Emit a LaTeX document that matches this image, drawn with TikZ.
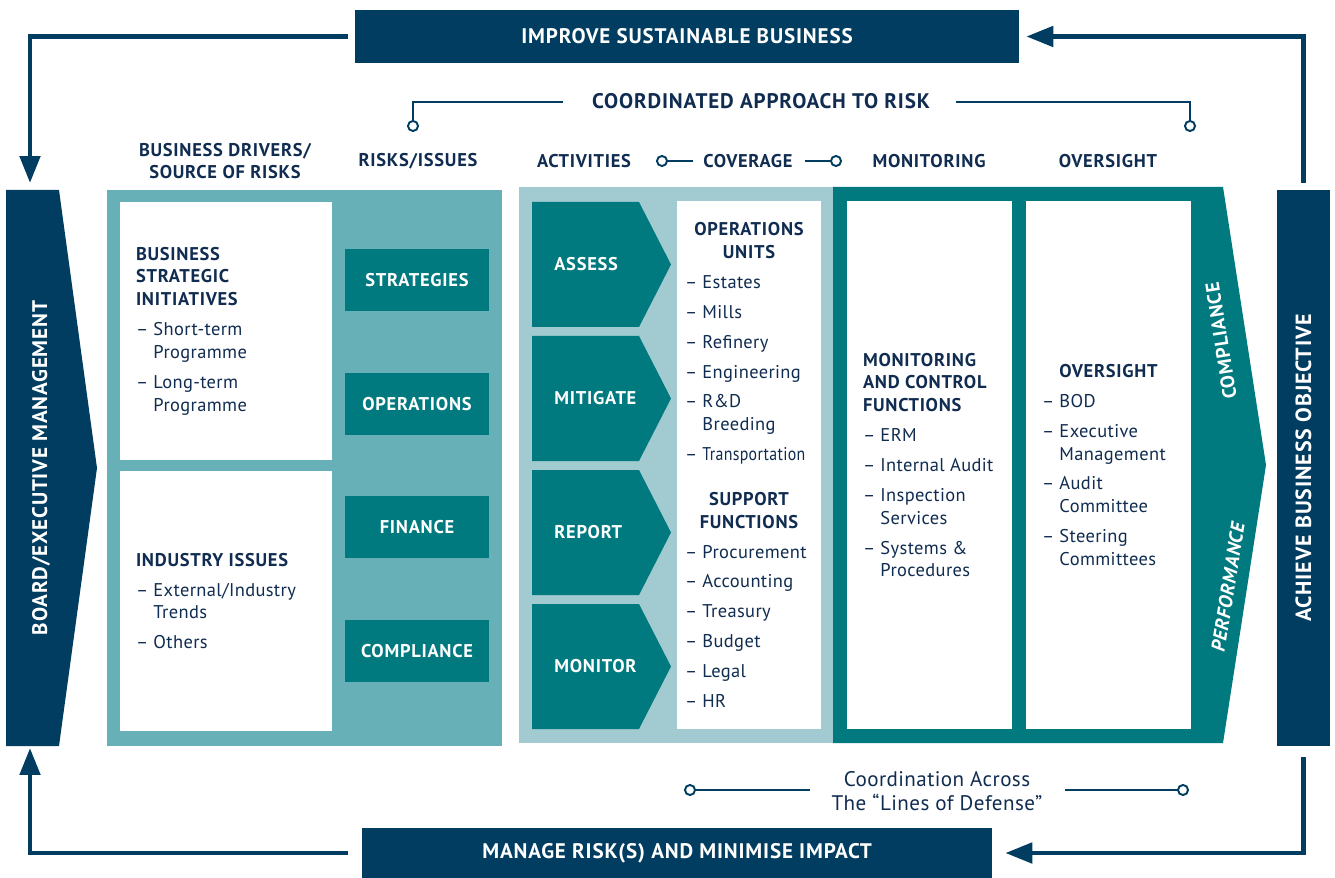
\documentclass[tikz,border=0pt]{standalone}
\usepackage{fontspec}
\setmainfont{PT Sans}
\newfontfamily\capsfont[LetterSpace=4]{PT Sans}
\newfontfamily\bodyfont[LetterSpace=2]{PT Sans}
\usepackage{graphicx}
\usepackage{tikz}
\usetikzlibrary{shapes,arrows.meta,positioning}

\definecolor{navy}{HTML}{003D60}
\definecolor{deepteal}{HTML}{007A7F}
\definecolor{midteal}{HTML}{67B0B8}
\definecolor{paleteal}{HTML}{A2CBD1}
\definecolor{ink}{HTML}{102C50}

\newcommand{\itemdash}{\textendash~}
\newcommand{\itemhang}{\hphantom{\textendash~}}
\newcommand{\hd}[1]{{\capsfont\bfseries\fontsize{10.5}{13}\selectfont #1}}

\tikzset{
  banner/.style={fill=navy, text=white, inner sep=0pt,
    font=\capsfont\bfseries\fontsize{12}{14}\selectfont},
  sidetext/.style={text=white, inner sep=0pt,
    font=\capsfont\bfseries\fontsize{12}{14}\selectfont},
  colhead/.style={text=ink, align=center, inner sep=0pt,
    font=\capsfont\bfseries\fontsize{10.5}{12.5}\selectfont},
  riskbox/.style={fill=deepteal, text=white, inner sep=0pt,
    minimum width=2.88cm, minimum height=1.24cm,
    font=\capsfont\bfseries\fontsize{10.5}{12}\selectfont},
  listbox/.style={fill=white, text=ink, inner sep=0pt, align=left,
    font=\bodyfont\fontsize{10.5}{13}\selectfont},
  acttext/.style={text=white, anchor=west, inner sep=0pt,
    font=\capsfont\bfseries\fontsize{10.5}{12}\selectfont},
  flow/.style={draw=navy, line width=2.8pt,
    -{Triangle[width=0.4cm,length=0.54cm]}},
  link/.style={draw=navy, line width=1.1pt},
  linkdot/.style={link, -{Circle[open,length=0.24cm,width=0.24cm]}},
  dotlink/.style={link, {Circle[open,length=0.24cm,width=0.24cm]}-},
}

\begin{document}
\begin{tikzpicture}[x=0.02cm, y=-0.02cm]
  \useasboundingbox (0,0) rectangle (1335,878);

  % outer loop
  \node[banner, minimum width=13.28cm, minimum height=1.06cm] (improve) at (687,36.5) {IMPROVE SUSTAINABLE BUSINESS};
  \node[banner, minimum width=12.6cm, minimum height=1.0cm] (manage) at (677,853) {MANAGE RISK(S) AND MINIMISE IMPACT};

  \fill[navy] (6,190) -- (59,190) -- (97,468) -- (59,746) -- (6,746) -- cycle;
  \node[sidetext, rotate=90] (boardtext) at (41,468) {BOARD/EXECUTIVE MANAGEMENT};
  \coordinate (boardtop) at (30,183);
  \coordinate (boardbot) at (30,748);

  \node[fill=navy, inner sep=0pt, minimum width=1.06cm, minimum height=11.12cm] (achieve) at (1303.5,468) {};
  \node[sidetext, font=\capsfont\bfseries\fontsize{12.5}{14}\selectfont, rotate=90] (achievetext) at (achieve.center) {ACHIEVE BUSINESS OBJECTIVE};

  \draw[flow, shorten <=0.14cm] (improve.west) -| (boardtop);
  \draw[flow, shorten <=0.28cm] (manage.west) -| (boardbot);
  \draw[flow, shorten <=0.14cm, shorten >=0.14cm] (achieve.north) |- (improve.east);
  \draw[flow, shorten <=0.22cm, shorten >=0.26cm] (achieve.south) |- (manage.east);

  % headings
  \node[colhead, font=\capsfont\bfseries\fontsize{12}{14}\selectfont] (approach) at (761,101) {COORDINATED APPROACH TO RISK};
  \node[colhead] (drivers) at (225,161) {BUSINESS DRIVERS/\\SOURCE OF RISKS};
  \node[colhead] (risks) at (418,161) {RISKS/ISSUES};
  \node[colhead] (activities) at (584,161) {ACTIVITIES};
  \node[colhead] (coverage) at (748,161) {COVERAGE};
  \node[colhead] (monitoring) at (929,161) {MONITORING};
  \node[colhead] (oversight) at (1108,161) {OVERSIGHT};

  \coordinate (apL) at (563,102);
  \coordinate (apR) at (956,102);
  \coordinate (riskdot) at (413,132);
  \coordinate (sightdot) at (1190,132);
  \draw[linkdot] (apL) -| (riskdot);
  \draw[linkdot] (apR) -| (sightdot);

  \coordinate (cvA) at (656,161);
  \coordinate (cvB) at (693,161);
  \coordinate (cvC) at (805,161);
  \coordinate (cvD) at (842,161);
  \draw[dotlink] (cvA) -- (cvB);
  \draw[linkdot] (cvC) -- (cvD);

  % drivers and risks
  \node[fill=midteal, inner sep=0pt, minimum width=7.9cm, minimum height=11.12cm] (driverpanel) at (304.5,468) {};
  \node[listbox, minimum width=4.24cm, minimum height=5.16cm] (strategic) at (226,331) {%
    \makebox[3.6cm][l]{\hd{BUSINESS}}\\
    \hd{STRATEGIC}\\
    \hd{INITIATIVES}\\[4pt]
    \itemdash Short-term\\
    \itemhang Programme\\[4pt]
    \itemdash Long-term\\
    \itemhang Programme};
  \node[listbox, minimum width=4.24cm, minimum height=5.2cm] (industry) at (226,601) {%
    \makebox[3.6cm][l]{\hd{INDUSTRY ISSUES}}\\[4pt]
    \itemdash External/Industry\\
    \itemhang Trends\\[4pt]
    \itemdash Others};
  \node[riskbox] (strategies) at (417,280) {STRATEGIES};
  \node[riskbox] (operations) at (417,404) {OPERATIONS};
  \node[riskbox] (finance) at (417,527) {FINANCE};
  \node[riskbox] (compliance) at (417,651) {COMPLIANCE};

  % activities and coverage
  \node[fill=paleteal, inner sep=0pt, minimum width=6.3cm, minimum height=11.12cm] (actpanel) at (676.5,465) {};
  \foreach \ytop/\name/\word in {202/assess/ASSESS, 336/mitigate/MITIGATE, 470/report/REPORT, 604/monitor/MONITOR}{
    \fill[deepteal] (532,\ytop) -- (639,\ytop) -- (671,\ytop+62.5) -- (639,\ytop+125) -- (532,\ytop+125) -- cycle;
    \node[acttext] (\name) at (554,\ytop+62.5) {\word};
  }
  \node[listbox, minimum width=2.88cm, minimum height=10.56cm] (units) at (749,465) {%
    \makebox[2.56cm]{\hd{OPERATIONS}}\\
    \makebox[2.56cm]{\hd{UNITS}}\\[4pt]
    \itemdash Estates\\[4pt]
    \itemdash Mills\\[4pt]
    \itemdash Refinery\\[4pt]
    \itemdash Engineering\\[4pt]
    \itemdash R\&D\\
    \itemhang Breeding\\[4pt]
    \itemdash \scalebox{0.86}[1]{Transportation}\\[12.5pt]
    \makebox[2.56cm]{\hd{SUPPORT}}\\
    \makebox[2.56cm]{\hd{FUNCTIONS}}\\[4pt]
    \itemdash Procurement\\[4pt]
    \itemdash Accounting\\[4pt]
    \itemdash Treasury\\[4pt]
    \itemdash Budget\\[4pt]
    \itemdash Legal\\[4pt]
    \itemdash HR};

  % monitoring and oversight
  \fill[deepteal] (833,187) -- (1223,187) -- (1266,465) -- (1223,743) -- (833,743) -- cycle;
  \node[listbox, minimum width=3.3cm, minimum height=10.56cm] (control) at (929.5,465) {%
    \makebox[2.66cm][l]{\hd{MONITORING}}\\
    \hd{AND CONTROL}\\
    \hd{FUNCTIONS}\\[4pt]
    \itemdash ERM\\[4pt]
    \itemdash Internal Audit\\[4pt]
    \itemdash Inspection\\
    \itemhang Services\\[4pt]
    \itemdash Systems \&\\
    \itemhang Procedures};
  \node[listbox, minimum width=3.3cm, minimum height=10.56cm] (board) at (1108.5,465) {%
    \makebox[2.66cm]{\hd{OVERSIGHT}}\\[4pt]
    \itemdash BOD\\[4pt]
    \itemdash Executive\\
    \itemhang Management\\[4pt]
    \itemdash Audit\\
    \itemhang Committee\\[4pt]
    \itemdash Steering\\
    \itemhang Committees};
  \node[sidetext, font=\capsfont\bfseries\fontsize{11}{13}\selectfont, rotate=99] (compl) at (1221,341) {COMPLIANCE};
  \node[sidetext, font=\capsfont\bfseries\itshape\fontsize{11}{13}\selectfont, rotate=81] (perf) at (1228,587) {PERFORMANCE};

  % lines of defense
  \node[text=ink, align=center, inner sep=0pt, font=\bodyfont\fontsize{12}{14}\selectfont] (defense) at (937,791) {Coordination Across\\The “Lines of Defense”};
  \coordinate (defA) at (684,790);
  \coordinate (defB) at (810,790);
  \coordinate (defC) at (1065,790);
  \coordinate (defD) at (1189,790);
  \draw[dotlink] (defA) -- (defB);
  \draw[linkdot] (defC) -- (defD);
\end{tikzpicture}
\end{document}
